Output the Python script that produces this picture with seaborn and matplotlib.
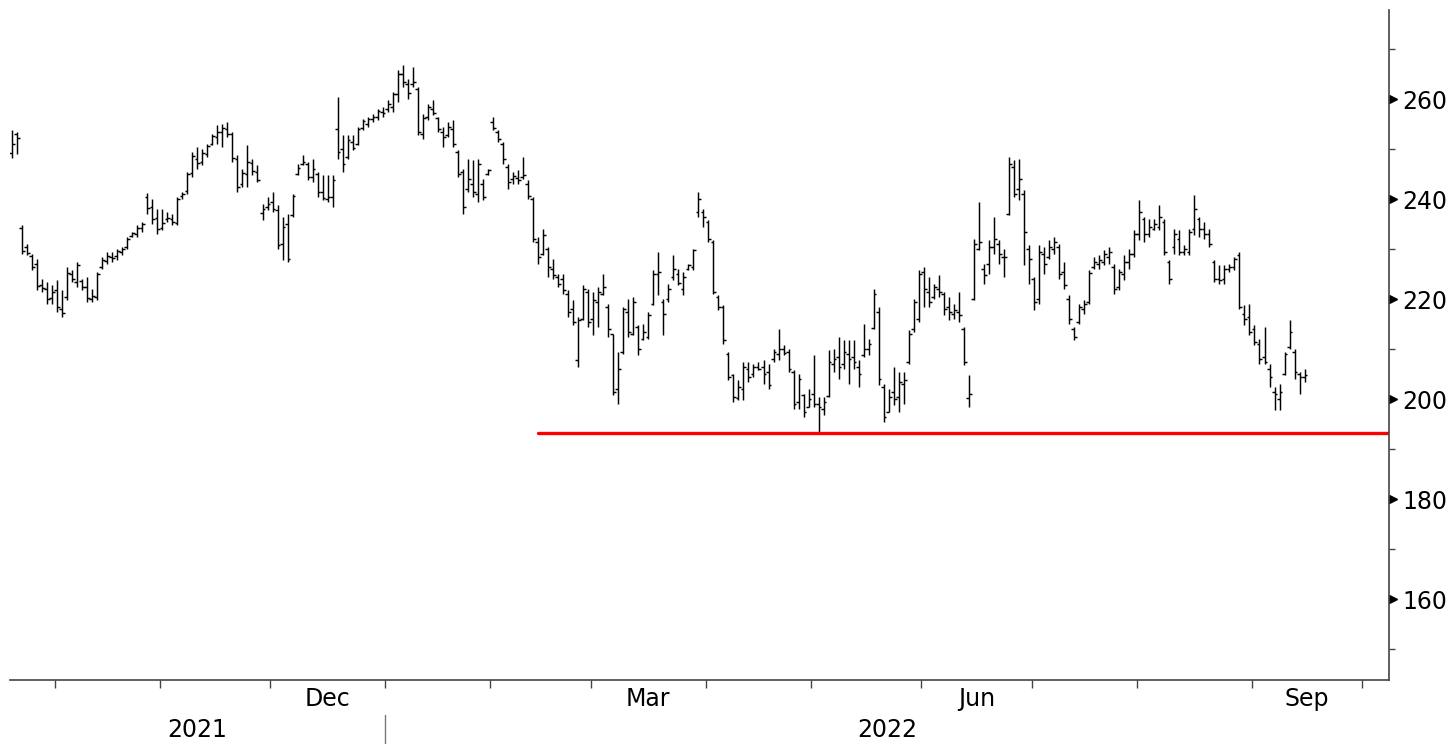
import numpy as np
import pandas as pd
import seaborn as sns
import matplotlib
matplotlib.use("Agg")
import matplotlib.pyplot as plt
import matplotlib.transforms as mtransforms

# daily bars, one per weekday starting 20 Sep 2021
start_date = "2021-09-20"

high = [
    253.9, 253.5, 234.8, 231.1, 229.1, 228.1, 224.1, 223.5, 222.8, 223.8,
    221.8, 226.5, 225.8, 227.5, 224.1, 224.5, 222.1, 225.5, 228.5, 229.5,
    229.5, 230.1, 230.5, 232.5, 233.5, 234.8, 235.5, 241.3, 240.1, 238.1,
    238.1, 237.5, 237.1, 240.5, 241.5, 245.5, 249.5, 250.5, 250.1, 251.1,
    253.1, 254.8, 255.1, 255.5, 253.5, 248.8, 246.1, 250.8, 248.1, 246.8,
    239.1, 240.5, 241.5, 238.8, 236.5, 237.1, 241.1, 247.1, 248.8, 247.5,
    248.1, 245.5, 244.8, 244.8, 244.8, 260.5,
    252.8, 252.8, 252.8, 254.5, 256.1, 256.5, 257.1, 258.1, 258.5, 259.8,
    261.5, 265.8, 266.8, 264.1, 266.5, 262.5, 257.1, 259.1, 259.8, 256.5,
    254.5, 255.5, 255.8, 249.8, 246.1, 248.1, 247.8, 248.1, 244.1, 246.1,
    256.5, 253.8, 251.5, 247.1, 245.5, 245.8, 248.5, 243.8, 240.5, 232.5,
    234.1, 230.5, 228.1, 225.1, 225.1, 221.8, 219.8, 216.5,
    222.8, 222.1, 221.5, 222.5, 225.1, 219.1, 213.1, 209.5, 218.5, 220.1,
    220.5, 214.8, 215.1, 217.5, 225.8, 229.5, 220.1, 223.1, 228.8, 226.1,
    225.5, 227.1, 230.1, 241.5,
    238.1, 235.8, 231.8, 220.8, 218.8, 209.5, 205.1, 203.8, 207.5, 207.5,
    207.1, 207.5, 207.8, 207.1, 210.1, 214.1, 210.8, 210.1, 205.8, 205.1,
    201.1, 202.1, 208.8, 200.5,
    200.5, 209.8, 210.1, 212.5, 211.8, 211.8, 211.8, 207.8, 215.1, 212.1,
    222.1, 218.5, 203.1, 202.1, 206.5, 205.5, 205.5, 213.8, 220.1, 225.8,
    226.5, 224.5, 223.0, 224.8, 221.5, 220.5, 219.0, 221.5, 214.5, 204.8,
    232.1, 239.5, 227.1, 231.8, 236.5, 231.8, 230.1, 248.5,
    247.8, 248.1, 241.8, 230.8, 224.5, 230.8, 230.5, 231.8, 232.5, 231.1,
    227.5, 220.8, 214.5, 219.1, 219.8, 225.8, 228.5, 228.8, 229.8, 230.5,
    227.1, 226.1, 228.8, 230.1, 233.8, 239.8,
    236.5, 236.1, 236.1, 238.8, 236.1, 227.8, 234.1, 233.8, 230.8, 234.1,
    240.8, 236.5, 235.5, 234.1, 227.8, 226.8, 226.8, 227.1, 228.5, 229.5,
    218.8, 219.1, 214.8, 212.1, 214.5, 207.1, 202.5, 203.1, 209.5, 215.8,
    210.1, 205.5, 206.1,
]

low = [
    248.3, 249.1, 229.1, 228.8, 225.8, 221.8, 221.5, 219.1, 219.1, 217.5,
    216.5, 219.8, 223.5, 222.5, 221.8, 219.5, 219.5, 219.8, 226.1, 227.1,
    227.5, 227.8, 228.8, 230.1, 232.5, 232.5, 233.5, 237.1, 235.1, 233.1,
    233.8, 235.5, 234.8, 234.8, 240.1, 241.1, 244.5, 246.1, 246.8, 248.5,
    250.8, 251.1, 250.5, 252.5, 247.5, 241.5, 242.5, 242.5, 244.8, 243.5,
    235.8, 237.8, 237.5, 230.1, 227.8, 227.5, 236.5, 244.8, 246.8, 243.8,
    243.5, 240.5, 239.8, 239.5, 238.5, 248.1,
    245.5, 248.1, 249.8, 250.8, 253.8, 254.5, 255.5, 255.8, 256.5, 257.5,
    257.5, 259.5, 262.5, 260.1, 262.5, 252.8, 252.1, 255.8, 256.8, 253.5,
    250.5, 252.5, 250.5, 244.5, 237.1, 241.5, 240.5, 239.5, 239.8, 244.8,
    253.8, 251.5, 247.1, 242.1, 243.1, 243.1, 244.1, 240.1, 231.5, 227.1,
    228.8, 224.5, 224.1, 222.5, 221.1, 216.5, 214.8, 206.5,
    215.8, 214.5, 212.8, 214.5, 220.8, 212.5, 200.8, 199.1, 209.1, 212.5,
    212.8, 208.8, 211.8, 212.1, 218.8, 220.8, 212.8, 219.5, 223.8, 222.8,
    220.8, 225.8, 225.8, 236.5,
    234.5, 231.5, 221.1, 217.8, 211.1, 203.8, 199.5, 199.8, 199.8, 203.5,
    204.5, 205.8, 203.0, 202.1, 207.5, 207.8, 208.8, 205.5, 198.1, 198.1,
    196.5, 198.5, 198.5, 193.5,
    196.8, 200.5, 205.5, 204.1, 206.1, 203.1, 206.1, 202.5, 208.5, 208.8,
    214.1, 202.8, 195.5, 197.5, 198.8, 197.5, 199.1, 207.1, 213.5, 215.5,
    218.5, 218.5, 220.0, 220.5, 216.8, 215.8, 216.0, 215.5, 206.8, 198.5,
    219.8, 229.8, 223.1, 225.1, 229.1, 227.1, 224.5, 236.8,
    240.5, 239.8, 226.8, 223.1, 217.8, 219.1, 225.1, 228.1, 229.1, 224.1,
    222.1, 215.1, 211.8, 215.1, 217.1, 219.1, 226.1, 226.1, 226.8, 227.1,
    221.1, 221.8, 223.8, 226.1, 228.5, 231.8,
    231.5, 232.5, 233.8, 233.8, 228.8, 223.1, 229.1, 228.8, 228.8, 228.8,
    232.8, 232.5, 232.1, 230.5, 223.5, 223.1, 223.1, 225.5, 225.8, 218.1,
    214.8, 212.8, 210.8, 207.1, 207.1, 202.5, 197.8, 197.8, 204.8, 210.1,
    204.1, 201.1, 203.5,
]

open_ = [
    249.2, 253.0, 234.3, 230.5, 228.6, 227.0, 222.8, 222.0, 220.2, 221.8,
    218.0, 220.5, 225.0, 223.5, 223.6, 222.5, 220.0, 220.4, 226.5, 227.6,
    228.4, 228.6, 229.4, 230.5, 232.7, 233.0, 234.2, 240.5, 238.5, 236.2,
    234.2, 236.0, 236.0, 235.2, 240.6, 241.6, 245.2, 248.0, 247.5, 249.0,
    251.0, 252.5, 253.5, 254.0, 253.0, 248.0, 243.0, 245.0, 247.2, 245.5,
    237.2, 238.5, 239.5, 237.8, 231.0, 235.0, 236.8, 245.0, 247.0, 247.0,
    244.5, 245.0, 241.5, 240.0, 240.5, 254.0,
    250.0, 248.5, 251.5, 251.0, 254.2, 255.0, 256.0, 256.5, 257.5, 258.0,
    258.5, 261.0, 265.0, 263.0, 263.0, 262.0, 253.0, 256.5, 258.0, 256.2,
    253.5, 252.8, 254.0, 249.5, 245.5, 242.0, 243.0, 241.0, 243.0, 245.0,
    255.5, 253.5, 251.0, 246.5, 244.0, 244.2, 244.5, 243.0, 240.0, 231.5,
    229.0, 230.0, 226.0, 224.5, 224.0, 221.0, 218.0, 207.8,
    216.0, 221.5, 216.0, 219.5, 221.0, 218.5, 213.0, 202.0, 209.5, 217.5,
    213.0, 214.5, 212.0, 212.5, 219.0, 225.0, 219.5, 220.0, 224.5, 225.0,
    222.0, 226.0, 226.5, 237.5,
    237.5, 235.5, 231.5, 220.5, 218.5, 209.0, 204.8, 200.2, 202.0, 206.0,
    205.0, 206.5, 206.5, 205.5, 208.0, 209.0, 210.0, 209.5, 205.5, 199.5,
    200.8, 198.5, 201.0, 199.0,
    198.0, 200.6, 207.0, 208.5, 207.0, 209.0, 208.5, 206.5, 208.8, 210.0,
    214.3, 217.5, 202.5, 197.5, 201.5, 200.5, 203.0, 207.5, 214.0, 216.0,
    225.5, 221.5, 220.5, 222.0, 221.0, 218.5, 217.0, 217.5, 214.0, 200.2,
    220.0, 230.0, 226.0, 227.0, 230.5, 231.0, 228.5, 237.0,
    246.5, 242.0, 241.0, 230.0, 224.0, 220.0, 229.0, 228.5, 230.0, 230.5,
    225.5, 220.0, 214.0, 215.5, 218.0, 219.5, 226.5, 227.0, 227.5, 228.5,
    226.5, 222.5, 225.0, 227.5, 229.0, 233.0,
    236.0, 233.0, 234.0, 234.5, 235.5, 227.5, 230.5, 232.0, 229.5, 229.5,
    234.0, 236.0, 234.0, 233.0, 227.5, 224.0, 224.0, 226.0, 226.5, 228.8,
    217.0, 216.5, 214.0, 211.0, 208.5, 206.0, 201.5, 200.0, 205.0, 210.5,
    209.5, 205.0, 204.5,
]

close = [
    251.0, 252.2, 229.6, 229.2, 226.4, 222.6, 222.3, 220.0, 221.5, 218.4,
    217.2, 225.2, 224.0, 226.8, 222.4, 220.2, 220.6, 225.0, 227.9, 228.6,
    228.2, 229.6, 230.0, 232.0, 233.2, 234.3, 235.0, 238.2, 236.0, 234.0,
    235.2, 236.3, 235.5, 240.0, 241.0, 245.0, 248.6, 247.2, 249.3, 250.6,
    252.6, 253.4, 254.2, 253.0, 248.3, 242.4, 245.2, 247.5, 245.6, 243.8,
    238.0, 239.0, 238.0, 230.8, 234.5, 228.0, 240.6, 246.3, 247.5, 244.5,
    246.0, 241.5, 240.2, 240.5, 243.8, 249.5,
    247.0, 251.8, 250.3, 254.0, 255.6, 256.0, 256.5, 257.6, 257.2, 259.0,
    261.0, 265.0, 263.5, 261.2, 263.5, 253.5, 256.3, 258.5, 257.2, 254.0,
    252.5, 254.5, 251.0, 245.0, 238.5, 244.0, 241.5, 247.0, 240.5, 245.8,
    254.2, 252.0, 248.0, 243.5, 244.6, 243.8, 244.8, 240.6, 232.0, 228.5,
    232.8, 226.5, 224.8, 223.0, 221.8, 217.5, 215.5, 215.8,
    222.0, 215.5, 219.8, 221.5, 222.5, 214.0, 201.5, 206.0, 218.0, 213.5,
    219.5, 210.0, 213.5, 216.8, 225.0, 225.5, 217.0, 222.0, 226.0, 223.2,
    224.5, 226.8, 229.8, 240.0,
    236.5, 232.0, 221.5, 218.5, 211.8, 204.5, 200.5, 202.5, 206.5, 204.5,
    206.5, 206.0, 205.0, 202.8, 209.5, 210.0, 209.2, 206.0, 199.0, 204.0,
    197.5, 200.0, 199.0, 198.5,
    199.5, 207.5, 208.0, 206.5, 209.5, 208.0, 207.5, 205.0, 210.0, 211.0,
    221.0, 204.0, 196.5, 200.5, 200.0, 203.5, 203.8, 213.0, 219.5, 225.0,
    222.0, 219.5, 222.5, 221.5, 218.0, 217.5, 217.8, 216.8, 207.5, 201.0,
    231.0, 231.5, 224.8, 230.5, 232.0, 229.0, 228.5, 247.0,
    241.0, 244.0, 233.5, 228.0, 219.5, 229.5, 227.0, 230.5, 231.5, 225.0,
    222.8, 216.0, 212.5, 218.5, 219.0, 225.2, 227.5, 227.8, 229.0, 229.5,
    222.0, 225.5, 227.5, 229.0, 233.0, 237.5,
    233.0, 234.5, 235.0, 236.5, 229.5, 224.0, 233.0, 229.5, 230.0, 233.5,
    238.0, 234.0, 233.0, 231.0, 224.0, 223.8, 226.0, 226.5, 228.0, 218.5,
    216.0, 213.5, 211.5, 208.0, 207.5, 204.5, 201.0, 201.5, 209.0, 213.5,
    205.5, 204.5, 204.8,
]

# support line
support_level = 193.2
support_start = "2022-02-14"

month_names = {12: "Dec", 3: "Mar", 6: "Jun", 9: "Sep"}
y_major = [160, 180, 200, 220, 240, 260]
y_minor = [150, 170, 190, 210, 230, 250, 270]

dates = pd.bdate_range(start_date, periods=len(high))
df = pd.DataFrame({"date": dates, "open": open_, "high": high, "low": low, "close": close})
df["pos"] = np.arange(len(df))


def bpos(day):
    # bar index of a calendar day on the weekday axis
    return np.busday_count(start_date, pd.Timestamp(day).strftime("%Y-%m-%d"))


sns.set_theme(style="white")
plt.rcParams["font.family"] = ["DejaVu Sans"]
plt.rcParams["text.color"] = "black"

fig = plt.figure(figsize=(14.55, 7.44), dpi=100)
ax = fig.add_axes([10 / 1455, 64 / 744, 1379 / 1455, 670 / 744])

x_left, x_right = -0.4, 274.85

# OHLC bars
ax.vlines(df["pos"], df["low"], df["high"], color="black", linewidth=1.05)
ax.hlines(df["open"], df["pos"] - 0.55, df["pos"], color="black", linewidth=1.05)
ax.hlines(df["close"], df["pos"], df["pos"] + 0.55, color="black", linewidth=1.05)

# red support level
sp = bpos(support_start)
sns.lineplot(x=[sp, x_right], y=[support_level, support_level], color="#ff0000",
             linewidth=2.4, ax=ax)

ax.set_xlim(x_left, x_right)
ax.set_ylim(143.8, 277.8)

# y axis on the right
ax.yaxis.tick_right()
ax.set_yticks(y_major)
ax.set_yticks(y_minor, minor=True)
ax.tick_params(axis="y", which="major", right=True, length=0, pad=9.5, labelsize=17,
               labelcolor="black")
ax.tick_params(axis="y", which="minor", right=True, length=4, width=1, color="#444444",
               direction="out")
tri = mtransforms.offset_copy(ax.get_yaxis_transform(), fig=fig, x=4, y=0, units="dots")
ax.plot([1.0] * len(y_major), y_major, linestyle="none", marker=">", markersize=6,
        color="black", transform=tri, clip_on=False)

# x axis: month boundaries + centred month names
month_starts = pd.date_range("2021-10-01", "2022-10-01", freq="MS")
bounds = np.array([bpos(d) for d in month_starts]) - 0.5
ax.set_xticks(bounds)
ax.set_xticklabels([])
mids, labs = [], []
for k, d in enumerate(month_starts[:-1]):
    if d.month in month_names:
        mids.append((bounds[k] + bounds[k + 1]) / 2)
        labs.append(month_names[d.month])
ax.set_xticks(mids, minor=True)
ax.set_xticklabels(labs, minor=True)
ax.tick_params(axis="x", which="major", bottom=True, length=6, width=1, color="#444444",
               direction="out")
ax.tick_params(axis="x", which="minor", bottom=True, length=0, pad=5, labelsize=17,
               labelcolor="black")

# year row
jan = bpos("2022-01-01") - 0.5
blend = mtransforms.blended_transform_factory(ax.transData, ax.transAxes)
ax.text((x_left + jan) / 2, -0.0746, "2021", transform=blend, ha="center", va="center",
        fontsize=17, color="black")
ax.text((jan + x_right) / 2, -0.0746, "2022", transform=blend, ha="center", va="center",
        fontsize=17, color="black")
ax.plot([jan, jan], [-0.052, -0.1], transform=blend, color="#777777", linewidth=1,
        clip_on=False)

for side in ["left", "top"]:
    ax.spines[side].set_visible(False)
for side in ["right", "bottom"]:
    ax.spines[side].set_color("#444444")
    ax.spines[side].set_linewidth(1.2)
ax.grid(False)

fig.savefig("out.png", dpi=100)
